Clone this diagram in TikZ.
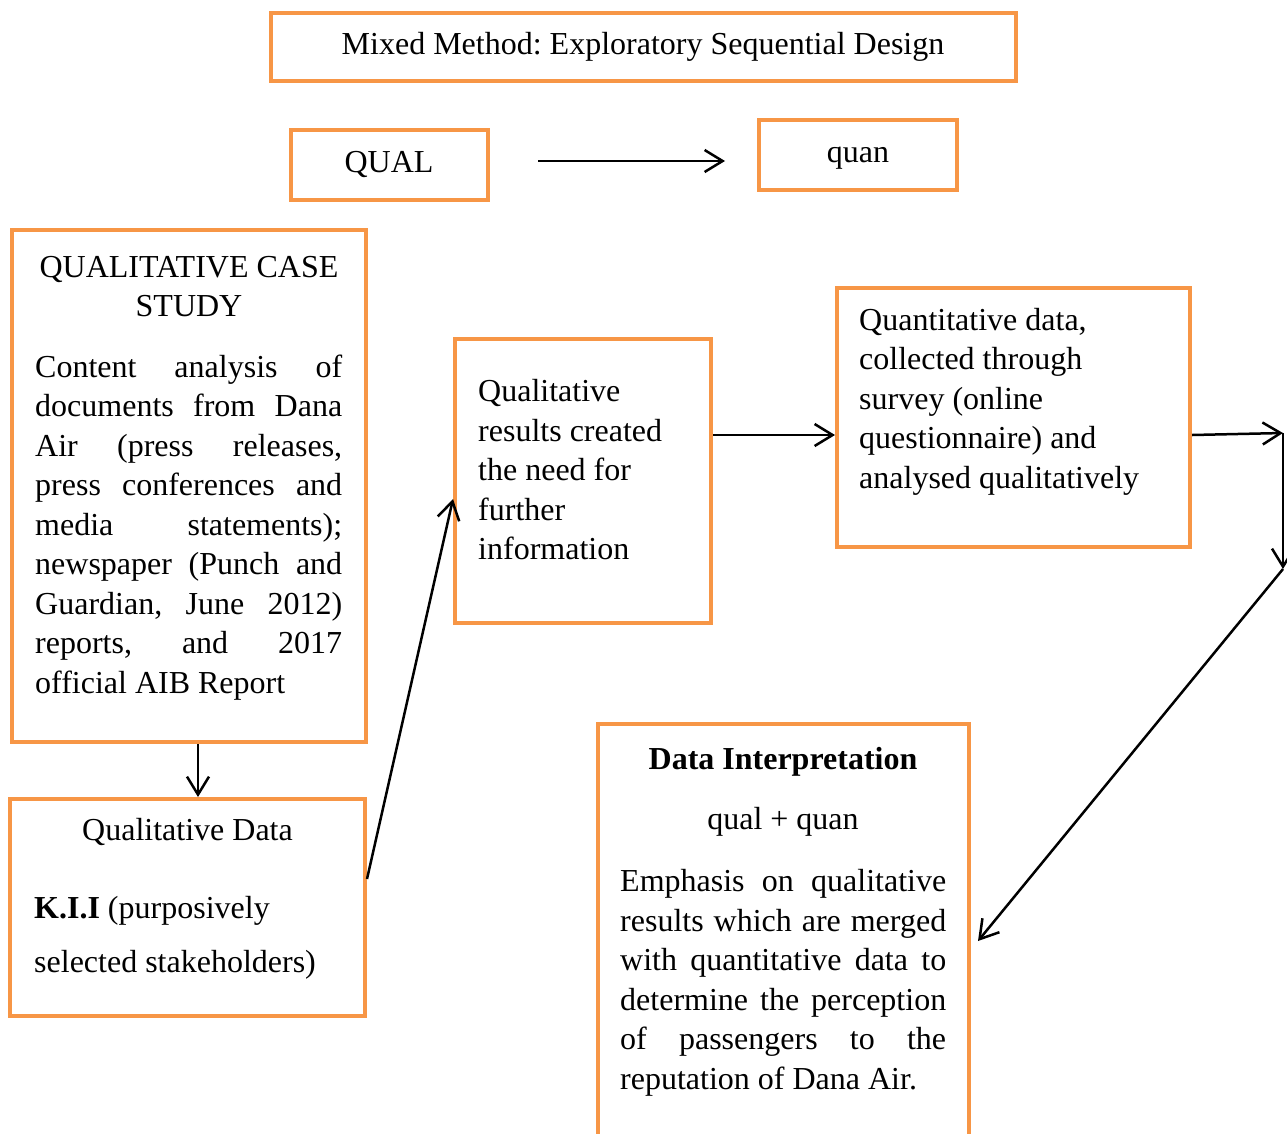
\documentclass[tikz,border=0pt]{standalone}
\usepackage{fontspec}
\setmainfont{Liberation Serif}
\usetikzlibrary{arrows.meta}
\definecolor{boxorange}{RGB}{247,150,70}
\frenchspacing
\begin{document}
\begin{tikzpicture}[x=1pt,y=-1pt,
  frame/.style={draw=boxorange, line width=4pt, rectangle, inner sep=0pt, anchor=north west},
  txt/.style={inner sep=0pt, font=\fontsize{32}{39.5}\selectfont},
  para/.style={txt, anchor=north west, align=justify,
    execute at begin node={\frenchspacing\tolerance=10000\hyphenpenalty=10000\emergencystretch=0pt}},
  rag/.style={txt, anchor=north west, align=flush left, execute at begin node={\frenchspacing}},
  conn/.style={line width=2.5pt, -{Straight Barb[length=18pt,width=22pt]}}]
\useasboundingbox (0,0) rectangle (1287,1133);

% frames
\node[frame, minimum width=745pt, minimum height=68pt]  (title)   at (269,11)  {};
\node[frame, minimum width=197pt, minimum height=70pt]  (qualbox) at (289,128) {};
\node[frame, minimum width=198pt, minimum height=70pt]  (quanbox) at (757,118) {};
\node[frame, minimum width=354pt, minimum height=512pt] (case)    at (10,228)  {};
\node[frame, minimum width=355pt, minimum height=217pt] (qdata)   at (8,797)   {};
\node[frame, minimum width=256pt, minimum height=284pt] (results) at (453,337) {};
\node[frame, minimum width=353pt, minimum height=259pt] (quant)   at (835,286) {};
\node[frame, minimum width=371pt, minimum height=430pt] (interp)  at (596,722) {};

% texts
\node[txt, anchor=base] (titletxt) at (643,54) {Mixed Method: Exploratory Sequential Design};
\node[txt, anchor=base] (qualtxt) at (389,172) {QUAL};
\node[txt, anchor=base] (quantxt) at (858,162) {quan};

\node[txt, anchor=base] (casehead1) at (189,277) {QUALITATIVE CASE};
\node[txt, anchor=base] (casehead2) at (189,316.5) {STUDY};
\node[para, text width=307pt] (casebody) at (35,349.35)
  {\noindent\strut Content analysis of\linebreak documents from Dana\linebreak
   Air (press releases,\linebreak press conferences and\linebreak
   media statements);\linebreak newspaper (Punch and\linebreak
   Guardian, June 2012)\linebreak reports, and 2017\linebreak official AIB Report};

\node[txt, anchor=base] (qdhead) at (187.5,840) {Qualitative Data};
\node[txt, anchor=base west] (qdkii) at (34,918) {\textbf{K.I.I} (purposively};
\node[txt, anchor=base west] (qdsel) at (34,972) {selected stakeholders)};

\node[rag, text width=230pt] (restxt) at (478,374)
  {\strut Qualitative\\ results created\\ the need for\\ further\\ information};

\node[rag, text width=330pt] (quanttxt) at (859,302.35)
  {\strut Quantitative data,\\ collected through\\ survey (online\\ questionnaire) and\\ analysed qualitatively};

\node[txt, anchor=base] (interphead) at (783,769) {\textbf{Data Interpretation}};
\node[txt, anchor=base] (interpsub) at (783,829) {qual + quan};
\node[para, text width=326pt] (interpbody) at (620,863.85)
  {\noindent\strut Emphasis on qualitative\linebreak results which are merged\linebreak
   with quantitative data to\linebreak determine the perception\linebreak
   of passengers to the\linebreak reputation of Dana Air.};

% connectors
\coordinate (qa) at (538,161);
\coordinate (qb) at (725,161);
\draw[conn] (qa) -- (qb);

\draw[conn] ([xshift=9pt]case.south) -- ([xshift=10.5pt]qdata.north);
\draw[conn] ([yshift=28.5pt]qdata.east) -- ([yshift=-18pt]results.west);
\draw[conn] ([yshift=46pt]results.east) -- ([yshift=-17.5pt]quant.west);

\coordinate (r1) at (1283,433);
\coordinate (r2) at (1283,569);
\draw[conn] ([yshift=-17.5pt]quant.east) -- (r1);
\draw[conn] (r1) -- (r2);
\draw[conn] (r2) -- ([xshift=7pt,yshift=-2pt]interp.east);
\end{tikzpicture}
\end{document}
